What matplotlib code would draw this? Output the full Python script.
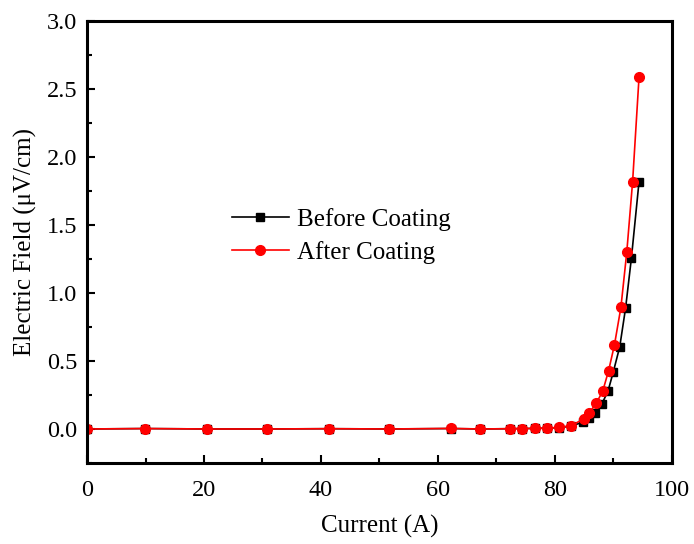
import matplotlib
matplotlib.use("Agg")
import matplotlib.pyplot as plt
from matplotlib.ticker import MultipleLocator

plt.rcParams['font.family'] = ['Liberation Serif', 'DejaVu Serif']
plt.rcParams['mathtext.fontset'] = 'stix'

before_x = [0, 9.9, 20.5, 30.8, 41.3, 51.7, 62.2, 67.2, 72.4, 74.4, 76.6, 78.6, 80.7, 82.7,
            84.8, 85.9, 86.9, 88.0, 89.1, 90.0, 91.1, 92.1, 93.1, 94.4]
before_y = [0.0, 0.003, 0.0, 0.0, 0.002, 0.0, 0.003, 0.0, 0.002, 0.003, 0.004, 0.006, 0.01, 0.02,
            0.05, 0.08, 0.12, 0.18, 0.28, 0.42, 0.605, 0.89, 1.26, 1.82]
after_x = [0, 9.9, 20.5, 30.8, 41.3, 51.7, 62.2, 67.2, 72.4, 74.4, 76.6, 78.6, 80.7, 82.7,
           85.0, 85.9, 87.1, 88.2, 89.2, 90.2, 91.3, 92.3, 93.3, 94.4]
after_y = [0.0, 0.003, 0.0, 0.0, 0.002, 0.0, 0.004, 0.0, 0.002, 0.003, 0.004, 0.006, 0.012, 0.024,
           0.074, 0.12, 0.19, 0.28, 0.43, 0.62, 0.895, 1.30, 1.82, 2.59]

fig = plt.figure(figsize=(6.94, 5.44), dpi=100)
ax = fig.add_axes([0.1254, 0.149, 0.8426, 0.812])

ax.plot(before_x, before_y, color='black', marker='s', markersize=6, linewidth=1.2,
        label='Before Coating')
ax.plot(after_x, after_y, color='red', marker='o', markersize=7, linewidth=1.2,
        label='After Coating')

ax.set_xlim(0, 100)
ax.set_ylim(-0.25, 3.0)
ax.xaxis.set_major_locator(MultipleLocator(20))
ax.xaxis.set_minor_locator(MultipleLocator(10))
ax.yaxis.set_minor_locator(MultipleLocator(0.25))
ax.set_yticks([0.0, 0.5, 1.0, 1.5, 2.0, 2.5, 3.0])
ax.set_yticklabels(['0.0', '0.5', '1.0', '1.5', '2.0', '2.5', '3.0'])

ax.tick_params(which='major', direction='in', length=6, width=1.5, labelsize=17.5, pad=7)
ax.tick_params(axis='x', which='major', pad=12)
ax.tick_params(which='minor', direction='in', length=3.5, width=1.5)
for s in ax.spines.values():
    s.set_linewidth(2.2)

ax.set_xlabel('Current (A)', fontsize=18, labelpad=10)
ax.set_ylabel('Electric Field (μV/cm)', fontsize=18, labelpad=7)

ax.legend(loc='upper left', bbox_to_anchor=(0.23, 0.6), frameon=False, fontsize=18,
          handlelength=2.3, handletextpad=0.3, labelspacing=0.4, borderaxespad=0)

fig.savefig('out.png', dpi=100)
